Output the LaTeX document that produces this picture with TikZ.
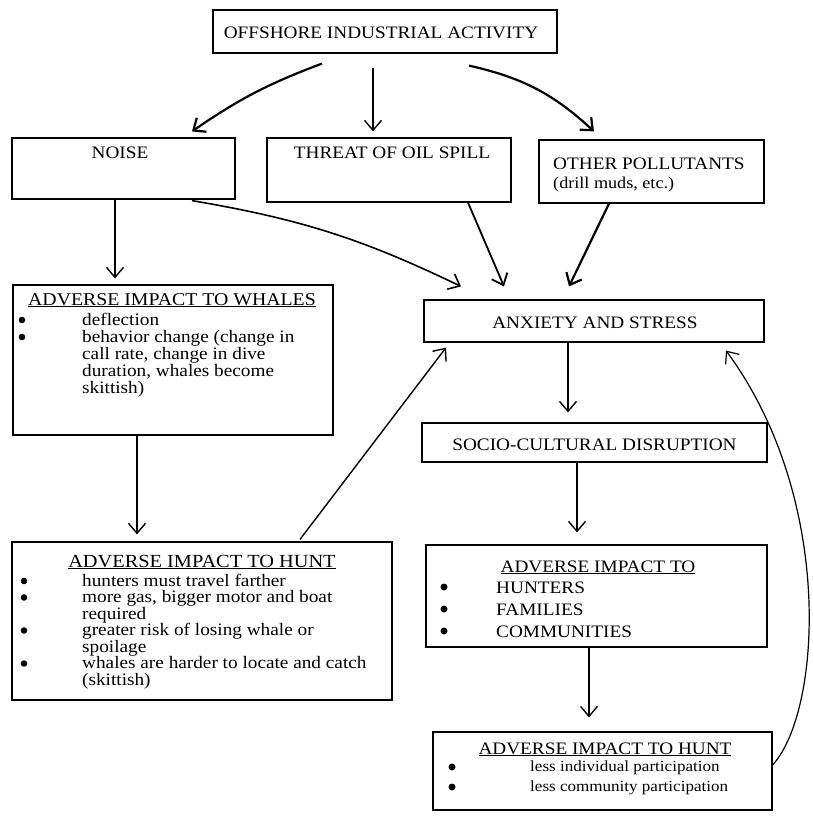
\documentclass[tikz,border=0pt]{standalone}
\usepackage{fontspec}
\setmainfont{Liberation Serif}[FakeStretch=1.1]
\usetikzlibrary{arrows.meta}
\begin{document}
\begin{tikzpicture}[x=1pt,y=1pt,
  box/.style={draw, line width=1.2pt, rectangle, inner sep=0pt},
  captxt/.style={font=\fontsize{17.5}{19}\selectfont, inner sep=0pt, anchor=base},
  captxtl/.style={font=\fontsize{17.5}{19}\selectfont, inner sep=0pt, anchor=base west},
  bodytxt/.style={font=\fontsize{16.5}{17}\selectfont, inner sep=0pt, anchor=base west},
  bigbody/.style={font=\fontsize{17.5}{17}\selectfont, inner sep=0pt, anchor=base west},
  arr/.style={line width=1.4pt, -{Straight Barb[length=10pt,width=17pt]}},
  thickarr/.style={line width=2.2pt, -{Straight Barb[length=10pt,width=17pt]}},
  bul/.style={fill=black}
]
\useasboundingbox (0,0) rectangle (812,-816);

% boxes
\node[box, minimum width=344pt, minimum height=43pt] (T) at (385,-31.5) {};
\node[box, minimum width=223pt, minimum height=61pt] (N) at (123.5,-168.5) {};
\node[box, minimum width=244pt, minimum height=64pt] (O) at (389,-170) {};
\node[box, minimum width=225pt, minimum height=63pt] (P) at (651.5,-171.5) {};
\node[box, minimum width=320pt, minimum height=150pt] (W) at (173,-360) {};
\node[box, minimum width=340pt, minimum height=42pt] (A) at (594,-321) {};
\node[box, minimum width=345pt, minimum height=39pt] (S) at (594.5,-442.5) {};
\node[box, minimum width=380pt, minimum height=158pt] (H) at (202,-621) {};
\node[box, minimum width=341pt, minimum height=102pt] (R) at (596.5,-596) {};
\node[box, minimum width=339pt, minimum height=78pt] (B) at (602.5,-771) {};

% texts
\node[captxt] (tT) at (381,-39) {OFFSHORE INDUSTRIAL ACTIVITY};
\node[captxt] (tN) at (120,-158) {NOISE};
\node[captxt] (tO) at (392,-158) {THREAT OF OIL SPILL};
\node[captxtl] (tP1) at (553,-169) {OTHER POLLUTANTS};
\node[bodytxt] (tP2) at (553,-188) {(drill muds, etc.)};
\node[captxt] (tA) at (595,-328) {ANXIETY AND STRESS};
\node[captxt] (tS) at (594.5,-450) {SOCIO-CULTURAL DISRUPTION};

\node[captxt, font=\fontsize{18}{19}\selectfont] (tW0) at (172,-305) {\underline{ADVERSE IMPACT TO WHALES}};
\node[bigbody] (tW1) at (82,-325) {deflection};
\node[bigbody] (tW2) at (82,-342) {behavior change (change in};
\node[bigbody] (tW3) at (82,-359) {call rate, change in dive};
\node[bigbody] (tW4) at (82,-376) {duration, whales become};
\node[bigbody] (tW5) at (82,-393) {skittish)};
\fill[bul] (22,-320) circle (3.3);
\fill[bul] (22,-337) circle (3.3);

\node[captxt, font=\fontsize{18.5}{19}\selectfont] (tH0) at (202,-567) {\underline{ADVERSE IMPACT TO HUNT}};
\node[bigbody] (tH1) at (82,-586) {hunters must travel farther};
\node[bigbody] (tH2) at (82,-602.5) {more gas, bigger motor and boat};
\node[bigbody] (tH3) at (82,-619) {required};
\node[bigbody] (tH4) at (82,-635.5) {greater risk of losing whale or};
\node[bigbody] (tH5) at (82,-652) {spoilage};
\node[bigbody] (tH6) at (82,-668.5) {whales are harder to locate and catch};
\node[bigbody] (tH7) at (82,-685) {(skittish)};
\fill[bul] (24,-581) circle (3.3);
\fill[bul] (24,-597.5) circle (3.3);
\fill[bul] (24,-630.5) circle (3.3);
\fill[bul] (24,-663.5) circle (3.3);

\node[captxt] (tR0) at (598,-572) {\underline{ADVERSE IMPACT TO}};
\node[captxtl] (tR1) at (496,-593) {HUNTERS};
\node[captxtl] (tR2) at (496,-615) {FAMILIES};
\node[captxtl] (tR3) at (496,-637) {COMMUNITIES};
\fill[bul] (444,-587) circle (3.5);
\fill[bul] (444,-609) circle (3.5);
\fill[bul] (444,-631) circle (3.5);

\node[captxt] (tB0) at (605,-754) {\underline{ADVERSE IMPACT TO HUNT}};
\node[bodytxt, font=\fontsize{15.5}{17}\selectfont] (tB1) at (530,-771) {less individual participation};
\node[bodytxt, font=\fontsize{15.5}{17}\selectfont] (tB2) at (530,-791) {less community participation};
\fill[bul] (452,-767) circle (3.5);
\fill[bul] (452,-787) circle (3.5);

% connectors
\draw[thickarr] ([xshift=-63pt,yshift=-10pt]T.south) to[bend right=7] ([xshift=68.5pt,yshift=6pt]N.north);
\draw[arr] ([xshift=-12pt,yshift=-14pt]T.south) -- ([xshift=-16pt,yshift=6pt]O.north);
\draw[thickarr] ([xshift=84pt,yshift=-12pt]T.south) to[bend left=15] ([xshift=-57.5pt,yshift=8pt]P.north);
\draw[arr] ([xshift=-8.5pt]N.south) -- ([xshift=-58pt,yshift=6pt]W.north);
\draw[arr, line width=1.6pt] ([xshift=68.5pt,yshift=-1pt]N.south) to[bend left=8] ([xshift=-133pt,yshift=13pt]A.north);
\draw[arr, line width=1.8pt] ([xshift=79pt]O.south) -- ([xshift=-90pt,yshift=13pt]A.north);
\draw[thickarr] ([xshift=-42.5pt]P.south) -- ([xshift=-25pt,yshift=13pt]A.north);
\draw[arr] ([xshift=-36pt]W.south) -- ([xshift=-65pt,yshift=7pt]H.north);
\draw[arr] ([xshift=98pt,yshift=2pt]H.north) -- ([xshift=-148pt,yshift=-5pt]A.south);
\draw[arr] ([xshift=-26pt]A.south) -- ([xshift=-26.5pt,yshift=10pt]S.north);
\draw[arr] ([xshift=-17.5pt]S.south) -- ([xshift=-19.5pt,yshift=12pt]R.north);
\draw[arr] ([xshift=-7.5pt]R.south) -- ([xshift=-13.5pt,yshift=14pt]B.north);
\draw[arr, line width=1.2pt] ([xshift=-1pt,yshift=5pt]B.east) .. controls (821,-715) and (836,-500) .. ([xshift=132pt,yshift=-8pt]A.south);
\end{tikzpicture}
\end{document}
